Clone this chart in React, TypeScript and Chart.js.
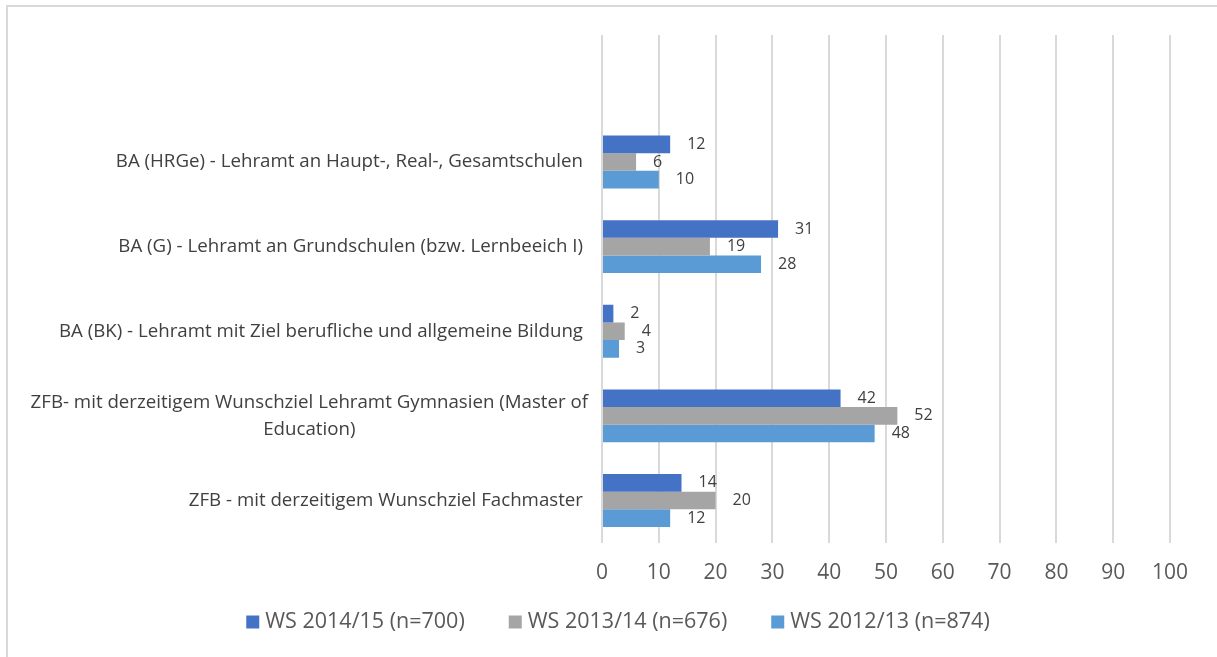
import React, { useEffect, useRef } from "react";
import { Chart, registerables } from "chart.js";

Chart.register(...registerables);

// ---- data ----
const categories: (string | string[])[] = [
  "",
  "BA (HRGe) - Lehramt an Haupt-, Real-, Gesamtschulen",
  "BA (G) - Lehramt an Grundschulen (bzw. Lernbeeich I)",
  "BA (BK) - Lehramt mit Ziel berufliche und allgemeine Bildung",
  ["ZFB- mit derzeitigem Wunschziel Lehramt Gymnasien (Master of", "Education)"],
  "ZFB - mit derzeitigem Wunschziel Fachmaster",
];
const seriesNames = ["WS 2014/15 (n=700)", "WS 2013/14 (n=676)", "WS 2012/13 (n=874)"];
const seriesColors = ["#4472C4", "#A5A5A5", "#5B9BD5"];
const ws201415 = [null, 12, 31, 2, 42, 14];
const ws201314 = [null, 6, 19, 4, 52, 20];
const ws201213 = [null, 10, 28, 3, 48, 12];
const xTickValues = [0, 10, 20, 30, 40, 50, 60, 70, 80, 90, 100];

const FONT = "'Open Sans', sans-serif";
const CAT_FONT_SIZE = 18.7;
const LABEL_COLOR = "#404040";

const categoryLabelPlugin = {
  id: "categoryLabels",
  afterDraw(chart: any) {
    const ctx = chart.ctx;
    const yScale = chart.scales.y;
    const right = chart.chartArea.left - 19;
    ctx.save();
    ctx.font = `${CAT_FONT_SIZE}px ${FONT}`;
    ctx.fillStyle = LABEL_COLOR;
    ctx.textBaseline = "middle";
    ctx.textAlign = "center";
    const lineH = 27;
    categories.forEach((lab, i) => {
      const lines = Array.isArray(lab) ? lab : [lab];
      if (!lines.join("")) return;
      const cy = yScale.getPixelForValue(i);
      const maxW = Math.max(...lines.map((l) => ctx.measureText(l).width));
      const r = lines.length > 1 ? right + 5 : right;
      const cx = r - maxW / 2;
      lines.forEach((l, j) => {
        const ly = cy + (j - (lines.length - 1) / 2) * lineH;
        ctx.fillText(l, cx, ly);
      });
    });
    ctx.restore();
  },
};

const valueLabelPlugin = {
  id: "valueLabels",
  afterDatasetsDraw(chart: any) {
    const ctx = chart.ctx;
    ctx.save();
    ctx.font = `16px ${FONT}`;
    ctx.fillStyle = LABEL_COLOR;
    ctx.textBaseline = "middle";
    ctx.textAlign = "left";
    chart.data.datasets.forEach((ds: any, di: number) => {
      const meta = chart.getDatasetMeta(di);
      meta.data.forEach((el: any, i: number) => {
        const v = ds.data[i];
        if (v === null || v === undefined) return;
        ctx.fillText(String(v), el.x + 17, el.y);
      });
    });
    ctx.restore();
  },
};

const bottomLegendPlugin = {
  id: "bottomLegend",
  afterDraw(chart: any) {
    const ctx = chart.ctx;
    ctx.save();
    ctx.font = `21.5px ${FONT}`;
    ctx.textBaseline = "middle";
    ctx.textAlign = "left";
    const box = 13;
    const gap = 6;
    const spacing = 44;
    const centerX = 618;
    const y = 622;
    const items = chart.data.datasets.map((d: any) => ({
      text: d.label as string,
      color: d.backgroundColor as string,
      w: ctx.measureText(d.label).width,
    }));
    const total =
      items.reduce((a: number, it: any) => a + box + gap + it.w, 0) + spacing * (items.length - 1);
    let x = centerX - total / 2;
    items.forEach((it: any) => {
      ctx.fillStyle = it.color;
      ctx.fillRect(x, y - box / 2, box, box);
      x += box + gap;
      ctx.fillStyle = "#595959";
      ctx.fillText(it.text, x, y);
      x += it.w + spacing;
    });
    ctx.restore();
  },
};

export default function App() {
  const canvasRef = useRef<HTMLCanvasElement | null>(null);

  useEffect(() => {
    if (!canvasRef.current) return;
    const chart = new Chart(canvasRef.current, {
      type: "bar",
      data: {
        labels: categories as any,
        datasets: [
          { label: seriesNames[0], data: ws201415 as any, backgroundColor: seriesColors[0] },
          { label: seriesNames[1], data: ws201314 as any, backgroundColor: seriesColors[1] },
          { label: seriesNames[2], data: ws201213 as any, backgroundColor: seriesColors[2] },
        ],
      },
      options: {
        indexAxis: "y",
        responsive: false,
        animation: false,
        maintainAspectRatio: false,
        datasets: { bar: { categoryPercentage: 0.625, barPercentage: 1 } },
        layout: { padding: { left: 66, right: 47, top: 35, bottom: 53 } },
        scales: {
          y: {
            type: "category",
            ticks: { display: false },
            grid: { display: false, drawTicks: false },
            border: { display: false },
            afterFit: (s: any) => {
              s.width = 536;
            },
          },
          x: {
            min: 0,
            max: 100,
            afterBuildTicks: (s: any) => {
              s.ticks = xTickValues.map((v) => ({ value: v }));
            },
            ticks: {
              padding: 18,
              color: "#595959",
              font: { family: FONT, size: 21 },
            },
            grid: { color: "#D9D9D9", lineWidth: 2, drawTicks: false },
            border: { display: false },
          },
        },
        plugins: {
          legend: { display: false },
          tooltip: { enabled: false },
        },
      },
      plugins: [categoryLabelPlugin, valueLabelPlugin, bottomLegendPlugin],
    });
    return () => chart.destroy();
  }, []);

  return (
    <div style={{ position: "fixed", left: 0, top: 0, width: 1217, height: 657, background: "#fff" }}>
      <div
        style={{
          position: "absolute",
          left: 6,
          top: 5,
          width: 1300,
          height: 800,
          borderLeft: "2px solid #D9D9D9",
          borderTop: "2px solid #D9D9D9",
        }}
      />
      <canvas
        ref={canvasRef}
        width={1217}
        height={657}
        style={{ position: "absolute", left: 0, top: 0, width: 1217, height: 657 }}
      />
    </div>
  );
}
